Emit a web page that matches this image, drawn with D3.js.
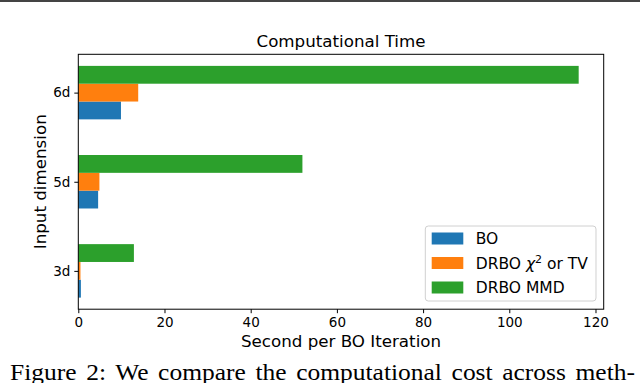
<!DOCTYPE html>
<html lang="en">
<head>
<meta charset="utf-8">
<title>Computational Time</title>
<script src="https://cdnjs.cloudflare.com/ajax/libs/d3/7.1.1/d3.min.js"></script>
<style>
  body { margin: 0; background: white; }
  svg { display: block; font-family: "DejaVu Sans", sans-serif; }
  .tick text { font-size: 13.5px; fill: #000; font-family: "DejaVu Sans", sans-serif; }
  .caption { font-family: "Liberation Serif", "Times New Roman", serif; }
</style>
</head>
<body>
<div id="chart"></div>
<script>
// data
const dims = ["3d", "5d", "6d"];
const seriesNames = ["BO", "DRBO \u03c7\u00b2 or TV", "DRBO MMD"];
const boTime = [0.6, 4.6, 9.9];
const chiTime = [0.5, 4.9, 13.9];
const mmdTime = [12.9, 52.0, 116.1];
const xTicks = [0, 20, 40, 60, 80, 100, 120];
const colors = ["#1f77b4", "#ff7f0e", "#2ca02c"];

const width = 640, height = 383;
const margin = {left: 78.3, right: 36.3, top: 54.3, bottom: 73.8};
const barH = 0.2; // in category units, like matplotlib's barh height

const svg = d3.select("#chart").append("svg")
    .attr("width", width)
    .attr("height", height);

// thin rule at the very top of the page crop
svg.append("rect")
    .attr("x", 0).attr("y", 0)
    .attr("width", width).attr("height", 2)
    .attr("fill", "#444");

const series = [boTime, chiTime, mmdTime];
const offsets = [-barH, 0, barH];

const xMax = d3.max(mmdTime) * 1.05;
const xScale = d3.scaleLinear()
    .domain([0, xMax])
    .range([margin.left, width - margin.right]);

// numeric y: category index, with 5% padding like matplotlib
const yLo = -1.5 * barH, yHi = dims.length - 1 + 1.5 * barH;
const pad = (yHi - yLo) * 0.05;
const yScale = d3.scaleLinear()
    .domain([yLo - pad, yHi + pad])
    .range([height - margin.bottom, margin.top]);

// bars
series.forEach(function(vals, s) {
  svg.append("g")
    .selectAll("rect")
    .data(vals)
    .enter()
    .append("rect")
      .attr("x", xScale(0))
      .attr("y", (d, i) => yScale(i + offsets[s] + barH / 2))
      .attr("width", d => xScale(d) - xScale(0))
      .attr("height", yScale(0) - yScale(barH))
      .attr("fill", colors[s]);
});

// frame
svg.append("rect")
    .attr("x", margin.left)
    .attr("y", margin.top)
    .attr("width", width - margin.right - margin.left)
    .attr("height", height - margin.bottom - margin.top)
    .attr("fill", "none")
    .attr("stroke", "#000")
    .attr("stroke-width", 1);

// x axis
const xAxis = d3.axisBottom(xScale)
    .tickValues(xTicks)
    .tickSize(4)
    .tickPadding(4);
svg.append("g")
    .attr("transform", "translate(0," + (height - margin.bottom) + ")")
    .call(xAxis)
    .call(g => g.select(".domain").remove());

// y axis
const yAxis = d3.axisLeft(yScale)
    .tickValues(d3.range(dims.length))
    .tickFormat(i => dims[i])
    .tickSize(4)
    .tickPadding(4);
svg.append("g")
    .attr("transform", "translate(" + margin.left + ",0)")
    .call(yAxis)
    .call(g => g.select(".domain").remove());

const plotMidX = (margin.left + width - margin.right) / 2;
const plotMidY = (margin.top + height - margin.bottom) / 2;

// title
svg.append("text")
    .attr("x", plotMidX)
    .attr("y", 47.3)
    .attr("text-anchor", "middle")
    .style("font-size", "16.7px")
    .text("Computational Time");

// axis labels
svg.append("text")
    .attr("x", plotMidX)
    .attr("y", 347)
    .attr("text-anchor", "middle")
    .style("font-size", "16.7px")
    .text("Second per BO Iteration");

svg.append("text")
    .attr("transform", "translate(46," + plotMidY + ") rotate(-90)")
    .attr("text-anchor", "middle")
    .style("font-size", "16.7px")
    .text("Input dimension");

// legend
const legend = svg.append("g").attr("transform", "translate(425.3,226)");
legend.append("rect")
    .attr("width", 170.7).attr("height", 75)
    .attr("rx", 3)
    .attr("fill", "white")
    .attr("stroke", "#d0d0d0");
seriesNames.forEach(function(name, i) {
  const rowY = 12.5 + i * 24.5;
  legend.append("rect")
      .attr("x", 6.4).attr("y", rowY - 6)
      .attr("width", 31.6).attr("height", 12)
      .attr("fill", colors[i]);
  const t = legend.append("text")
      .attr("x", 50.4).attr("y", rowY + 5.5)
      .style("font-size", "15.5px");
  if (i === 1) {
    t.append("tspan").text("DRBO ");
    t.append("tspan").style("font-style", "italic").text("\u03c7");
    t.append("tspan").attr("dy", -6).style("font-size", "11px").text("2");
    t.append("tspan").attr("dy", 6).text(" or TV");
  } else {
    t.text(name);
  }
});

// caption line below the figure (justified text, so wider word gaps)
svg.append("text")
    .attr("class", "caption")
    .attr("x", 10)
    .attr("y", 380)
    .attr("textLength", 625)
    .attr("lengthAdjust", "spacingAndGlyphs")
    .style("font-size", "23.5px")
    .style("word-spacing", "3px")
    .text("Figure 2: We compare the computational cost across meth-");
</script>
</body>
</html>
